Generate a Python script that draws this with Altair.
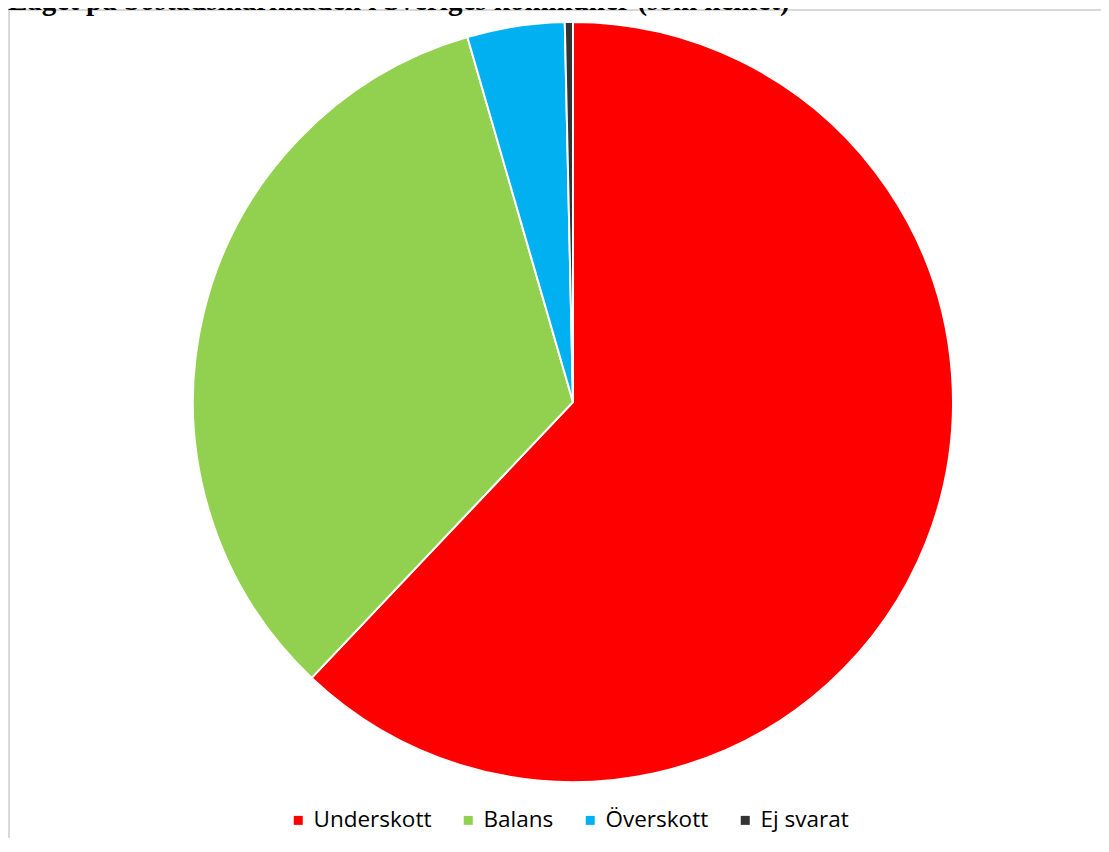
import altair as alt
import pandas as pd

categories = ["Underskott", "Balans", "Överskott", "Ej svarat"]
values = [180, 97, 12, 1]
colors = ["#FF0000", "#92D050", "#00B0F0", "#333333"]
title_text = "Läget på bostadsmarknaden i Sveriges kommuner (som helhet)"

df = pd.DataFrame({"kategori": categories, "antal": values, "ordning": list(range(len(categories)))})
title_df = pd.DataFrame({"titel": [title_text]})

W, H = 1093, 830

pie = alt.Chart(df).mark_arc(radius=380, stroke="white", strokeWidth=2).encode(
    theta=alt.Theta("antal:Q", stack=True),
    order=alt.Order("ordning:Q", sort="ascending"),
    color=alt.Color(
        "kategori:N",
        scale=alt.Scale(domain=categories, range=colors),
        sort=categories,
        legend=alt.Legend(
            title=None,
            orient="none",
            direction="horizontal",
            legendX=279,
            legendY=801,
            symbolType="square",
            symbolSize=81,
            symbolStrokeWidth=0,
            labelFont="Open Sans",
            labelFontSize=22.5,
            labelColor="#000000",
            labelOffset=4,
            columnPadding=25,
            padding=0,
        ),
    ),
    x=alt.value(565),
    y=alt.value(394),
    tooltip=["kategori:N", "antal:Q"],
)

border_top = alt.Chart(df).mark_rule(color="#d9d9d9", strokeWidth=2).encode(
    x=alt.value(0), x2=alt.value(W), y=alt.value(2)
)
border_left = alt.Chart(df).mark_rule(color="#d9d9d9", strokeWidth=2).encode(
    x=alt.value(1), y=alt.value(2), y2=alt.value(H)
)

title_mark = alt.Chart(title_df).mark_text(
    align="left",
    baseline="alphabetic",
    font="Liberation Serif",
    fontSize=29,
    fontWeight="bold",
    color="#000000",
).encode(text="titel:N", x=alt.value(0), y=alt.value(2))

chart = alt.layer(border_top, border_left, pie, title_mark).properties(
    width=W,
    height=H,
    padding=0,
    autosize=alt.AutoSizeParams(type="none"),
).configure_view(stroke=None)

chart.save("out.html", embed_options={"renderer": "svg", "actions": False})
